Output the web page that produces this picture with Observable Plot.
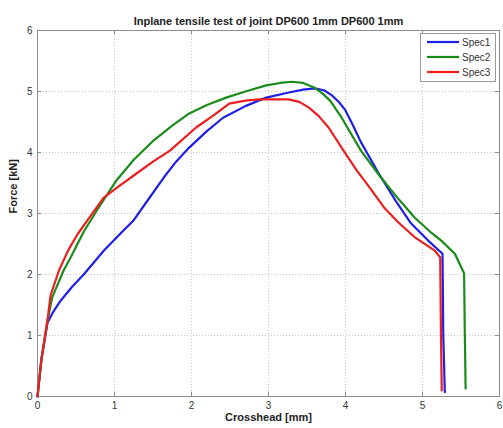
<!DOCTYPE html>
<html>
<head>
<meta charset="utf-8">
<script src="https://cdn.jsdelivr.net/npm/d3@7"></script>
<script src="https://cdn.jsdelivr.net/npm/@observablehq/plot@0.6"></script>
<style>
  html, body { margin: 0; padding: 0; background: #fff; }
  #chart svg { display: block; }
</style>
</head>
<body>
<div id="chart"></div>
<script>
const titleText = "Inplane tensile test of joint DP600 1mm DP600 1mm";
const xLabel = "Crosshead [mm]";
const yLabel = "Force [kN]";
const seriesNames = ["Spec1", "Spec2", "Spec3"];
const seriesColors = ["#1f1fe6", "#1a8c1a", "#ec1e1e"];
const xTicks = [0, 1, 2, 3, 4, 5, 6];
const yTicks = [0, 1, 2, 3, 4, 5, 6];

const spec1X = [0, 0.05, 0.13, 0.2, 0.3, 0.45, 0.6, 0.86, 1.1, 1.25, 1.45, 1.64, 1.8, 1.97, 2.2, 2.41, 2.7, 2.97, 3.25, 3.45, 3.6, 3.72, 3.82, 3.92, 4.0, 4.1, 4.2, 4.43, 4.65, 4.85, 5.07, 5.26, 5.27, 5.29];
const spec1Y = [0, 0.6, 1.21, 1.38, 1.57, 1.8, 2.0, 2.39, 2.7, 2.89, 3.25, 3.59, 3.85, 4.08, 4.35, 4.57, 4.76, 4.9, 4.98, 5.03, 5.05, 5.02, 4.94, 4.82, 4.69, 4.44, 4.17, 3.66, 3.21, 2.84, 2.56, 2.34, 1.0, 0.07];

const spec2X = [0, 0.05, 0.13, 0.19, 0.34, 0.43, 0.6, 0.77, 1.03, 1.25, 1.51, 1.75, 1.97, 2.2, 2.45, 2.7, 2.97, 3.15, 3.3, 3.45, 3.6, 3.7, 3.8, 3.95, 4.2, 4.46, 4.7, 4.9, 5.1, 5.24, 5.42, 5.54, 5.55, 5.56];
const spec2Y = [0, 0.6, 1.25, 1.62, 2.07, 2.28, 2.7, 3.05, 3.55, 3.88, 4.2, 4.44, 4.64, 4.78, 4.9, 5.0, 5.1, 5.14, 5.16, 5.14, 5.06, 4.97, 4.85, 4.57, 4.03, 3.59, 3.22, 2.93, 2.7, 2.56, 2.34, 2.02, 1.0, 0.13];

const spec3X = [0, 0.05, 0.13, 0.17, 0.28, 0.4, 0.52, 0.65, 0.86, 1.05, 1.29, 1.5, 1.72, 2.06, 2.3, 2.49, 2.7, 2.88, 3.1, 3.26, 3.4, 3.52, 3.65, 3.78, 4.0, 4.15, 4.3, 4.5, 4.68, 4.9, 5.16, 5.23, 5.24, 5.25];
const spec3Y = [0, 0.6, 1.25, 1.66, 2.07, 2.4, 2.66, 2.89, 3.26, 3.44, 3.66, 3.85, 4.03, 4.41, 4.62, 4.8, 4.85, 4.87, 4.87, 4.87, 4.83, 4.74, 4.6, 4.41, 3.98, 3.7, 3.45, 3.1, 2.86, 2.61, 2.39, 2.28, 1.0, 0.1];

const seriesX = [spec1X, spec2X, spec3X];
const seriesY = [spec1Y, spec2Y, spec3Y];
const data = [];
seriesNames.forEach((name, i) => {
  seriesX[i].forEach((x, j) => data.push({series: name, x, y: seriesY[i][j]}));
});

const frameColor = "#8c8c8c";
const font = "'Liberation Sans', Arial, sans-serif";

const chart = Plot.plot({
  width: 503,
  height: 428,
  marginLeft: 37,
  marginRight: 4,
  marginTop: 30,
  marginBottom: 32,
  style: {fontFamily: font, fontSize: "10px", color: "#333", background: "#fff"},
  x: {domain: [0, 6], ticks: xTicks, tickFormat: d3.format("d"), tickSize: 0, tickPadding: 5, label: null},
  y: {domain: [0, 6], ticks: yTicks, tickFormat: d3.format("d"), tickSize: 0, tickPadding: 5, label: null},
  color: {domain: seriesNames, range: seriesColors},
  marks: [
    Plot.gridX(xTicks.slice(1, -1), {stroke: "#c8c8c8", strokeOpacity: 1, strokeDasharray: "1,2"}),
    Plot.gridY(yTicks.slice(1, -1), {stroke: "#c8c8c8", strokeOpacity: 1, strokeDasharray: "1,2"}),
    // inward tick marks
    Plot.ruleX(xTicks, {x: d => d, y1: 0, y2: 0.07, stroke: frameColor}),
    Plot.ruleX(xTicks, {x: d => d, y1: 6, y2: 5.93, stroke: frameColor}),
    Plot.ruleY(yTicks, {y: d => d, x1: 0, x2: 0.055, stroke: frameColor}),
    Plot.ruleY(yTicks, {y: d => d, x1: 6, x2: 5.945, stroke: frameColor}),
    Plot.frame({stroke: frameColor}),
    Plot.line(data, {x: "x", y: "y", z: "series", stroke: "series", strokeWidth: 2.2, curve: "linear", strokeLinejoin: "round"}),
    Plot.text([titleText], {frameAnchor: "top", dy: -13, fontWeight: "bold", fontSize: 11, fill: "#222"}),
    Plot.text([xLabel], {frameAnchor: "bottom", dy: 24, fontWeight: "bold", fontSize: 11, fill: "#222"}),
    Plot.text([yLabel], {frameAnchor: "left", dx: -24, rotate: -90, fontWeight: "bold", fontSize: 11, fill: "#222"})
  ]
});

// legend box (top-right, inside plot)
const svg = d3.select(chart);
const lg = svg.append("g").attr("font-family", font).attr("font-size", 10).attr("text-anchor", "start");
lg.append("rect").attr("x", 420.5).attr("y", 33.5).attr("width", 75).attr("height", 48)
  .attr("fill", "#fff").attr("stroke", "#999");
seriesNames.forEach((name, i) => {
  const yy = 42 + i * 15;
  lg.append("line").attr("x1", 427).attr("x2", 459).attr("y1", yy).attr("y2", yy)
    .attr("stroke", seriesColors[i]).attr("stroke-width", 2.2);
  lg.append("text").attr("x", 462).attr("y", yy).attr("dy", "0.35em").attr("fill", "#333").text(name);
});

document.getElementById("chart").appendChild(chart);
</script>
</body>
</html>
